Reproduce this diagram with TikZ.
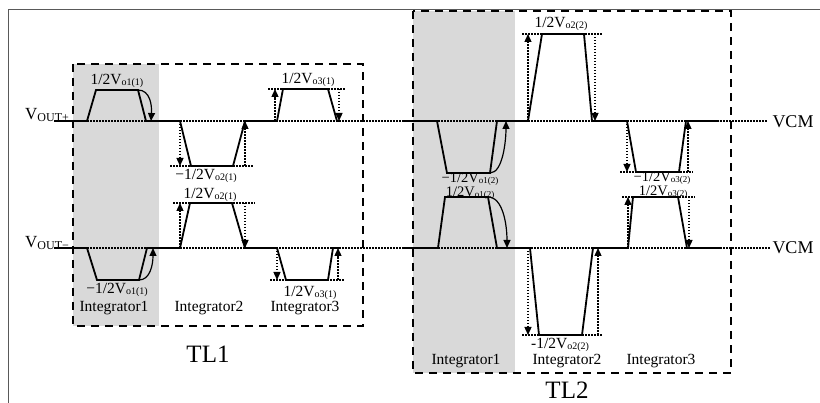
\documentclass[tikz,border=0pt]{standalone}
\usepackage{fontspec}
\setmainfont{Liberation Serif}
\usetikzlibrary{arrows.meta}
\newcommand{\hv}[2]{#1V\raisebox{-0.25ex}{\fontsize{10}{10}\selectfont #2}}
\newcommand{\hvs}[2]{#1V\raisebox{-0.2ex}{\fontsize{9}{9}\selectfont #2}}
\newcommand{\vout}[1]{V\raisebox{-0.2ex}{\fontsize{12}{12}\selectfont OUT#1}}

\begin{document}
\begin{tikzpicture}[x=1pt,y=-1pt,
  wave/.style={line width=1.8pt, line join=miter},
  vcm/.style={line width=1.3pt, dash pattern=on 1.5pt off 1.5pt},
  lvl/.style={line width=1.1pt, dash pattern=on 1.5pt off 1.5pt},
  darr/.style={line width=1.3pt, dash pattern=on 1.5pt off 1.5pt, -{Triangle[length=8pt,width=7pt]}},
  carr/.style={line width=1.2pt, -{Triangle[length=8pt,width=7pt]}},
  tlbox/.style={line width=1.5pt, dash pattern=on 8pt off 6pt},
  lab/.style={font=\fontsize{15.5}{16}\selectfont, inner sep=0pt},
  slab/.style={font=\fontsize{14.5}{15}\selectfont, inner sep=0pt},
  intg/.style={font=\fontsize{15.5}{16}\selectfont, inner sep=0pt},
  big/.style={font=\fontsize{25}{25}\selectfont, inner sep=0pt}]
  \useasboundingbox (0,0) rectangle (820,403);

  % frame and shaded integrators
  \draw[line width=1pt, black!65] (8,403) -- (8,10) -- (820,10);
  \fill[black!15] (73,64) rectangle (159,326);
  \fill[black!15] (413,11) rectangle (515,373);

  % common mode lines
  \draw[vcm] (54,121) -- (768,121);
  \draw[vcm] (54,248) -- (770,248);

  % TL1 waveforms
  \draw[wave] (54,121) -- (87,121) -- (96,90) -- (138,90) -- (146,121) -- (180,121) -- (191,166) -- (233,166)
    -- (245,121) -- (277,121) -- (283,89) -- (328,89) -- (337,121) -- (340,121);
  \draw[wave] (54,248) -- (87,248) -- (97,280) -- (139,280) -- (147,248) -- (180,248) -- (190,203) -- (232,203)
    -- (245,248) -- (277,248) -- (286,280) -- (328,280) -- (333,248) -- (340,248);

  % TL2 waveforms
  \draw[wave] (403,121) -- (437,121) -- (447,173) -- (490,173) -- (497,121) -- (528,121) -- (542,34) -- (584,34)
    -- (592,121) -- (627,121) -- (636,172) -- (679,172) -- (686,121) -- (719,121);
  \draw[wave] (403,248) -- (438,248) -- (445,197) -- (488,197) -- (497,248) -- (530,248) -- (539,335) -- (582,335)
    -- (593,248) -- (628,248) -- (633,197) -- (678,197) -- (687,248) -- (720,248);

  % levels
  \draw[lvl] (170,166) -- (253,166);
  \draw[lvl] (268,89) -- (345,89);
  \draw[lvl] (173,203) -- (255,203);
  \draw[lvl] (270,280) -- (345,280);
  \draw[lvl] (522,34) -- (603,34);
  \draw[lvl] (620,172) -- (693,172);
  \draw[lvl] (522,335) -- (603,335);
  \draw[lvl] (622,197) -- (695,197);

  % dotted arrows
  \draw[darr] (180,121) -- (180,166);
  \draw[darr] (245,166) -- (245,121);
  \draw[darr] (275,121) -- (275,89);
  \draw[darr] (339,89) -- (339,121);
  \draw[darr] (180,248) -- (180,203);
  \draw[darr] (245,203) -- (245,248);
  \draw[darr] (277,248) -- (277,280);
  \draw[darr] (338,280) -- (338,248);
  \draw[darr] (528,121) -- (528,34);
  \draw[darr] (595,34) -- (595,121);
  \draw[darr] (627,121) -- (627,172);
  \draw[darr] (688,172) -- (688,121);
  \draw[darr] (528,248) -- (528,335);
  \draw[darr] (598,335) -- (598,248);
  \draw[darr] (628,248) -- (628,197);
  \draw[darr] (689,197) -- (689,248);

  % curved arrows
  \draw[carr] (138,90) .. controls (150,90) and (152,105) .. (151,121);
  \draw[carr] (139,280) .. controls (150,280) and (153,265) .. (153,248);
  \draw[carr] (490,173) .. controls (503,173) and (506,140) .. (506,121);
  \draw[carr] (488,197) .. controls (503,197) and (507,225) .. (507,248);

  % dashed boxes
  \draw[tlbox] (73,64) rectangle (363,326);
  \draw[tlbox] (413,11) rectangle (731,373);

  % labels
  \node[lab, anchor=west] (vop) at (25,115) {\fontsize{17}{17}\selectfont\vout{+}};
  \node[lab, anchor=west] (von) at (25,243) {\fontsize{17}{17}\selectfont\vout{−}};
  \node[lab] (vcmp) at (793,122) {\fontsize{18}{18}\selectfont VCM};
  \node[lab] (vcmn) at (793,248) {\fontsize{18}{18}\selectfont VCM};

  \node[lab] (a11) at (117,81) {\hv{1/2}{o1(1)}};
  \node[lab] (a21n) at (206,176) {\hv{−1/2}{o2(1)}};
  \node[lab] (a21) at (210,195) {\hv{1/2}{o2(1)}};
  \node[lab] (a31) at (308,80) {\hv{1/2}{o3(1)}};
  \node[lab] (a11n) at (117,290) {\hv{−1/2}{o1(1)}};
  \node[lab] (a31n) at (310,293) {\hv{1/2}{o3(1)}};
  \node[intg] (i11) at (114,308) {Integrator1};
  \node[intg] (i21) at (209,308) {Integrator2};
  \node[intg] (i31) at (305,308) {Integrator3};
  \node[big] (tl1) at (208,354) {TL1};

  \node[slab] (a12n) at (470,179) {\hvs{−1/2}{o1(2)}};
  \node[slab] (a12) at (470,193) {\hvs{1/2}{o1(2)}};
  \node[lab] (a22) at (561,24) {\hv{1/2}{o2(2)}};
  \node[slab] (a32n) at (662,178) {\hvs{−1/2}{o3(2)}};
  \node[slab] (a32) at (663,192) {\hvs{1/2}{o3(2)}};
  \node[lab] (a22n) at (560,345) {\hv{-1/2}{o2(2)}};
  \node[intg] (i12) at (466,361) {Integrator1};
  \node[intg] (i22) at (567,361) {Integrator2};
  \node[intg] (i32) at (661,361) {Integrator3};
  \node[big] (tl2) at (567,390) {TL2};
\end{tikzpicture}
\end{document}
